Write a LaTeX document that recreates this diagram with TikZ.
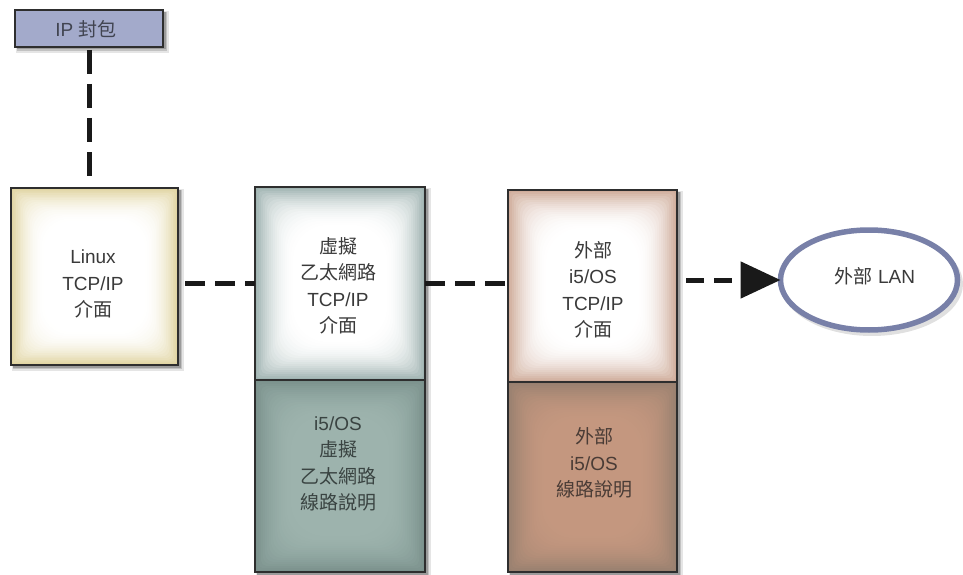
\documentclass[tikz,border=0pt]{standalone}
\usepackage{fontspec}
\setmainfont{Liberation Sans}
\newfontfamily\cjk{Noto Sans CJK TC}
\usetikzlibrary{arrows.meta,shapes.geometric}
\definecolor{ipfill}{HTML}{A3AACB}
\definecolor{lnxedge}{HTML}{E0D4A0}
\definecolor{vtedge}{HTML}{9FB3B1}
\definecolor{vbedge}{HTML}{7A918C}
\definecolor{vbcent}{HTML}{9DB3AD}
\definecolor{etedge}{HTML}{CFAC9A}
\definecolor{ebedge}{HTML}{98806F}
\definecolor{ebcent}{HTML}{C4977F}
\definecolor{lanring}{HTML}{7880A8}
\definecolor{bord}{HTML}{2E2E2E}
\definecolor{txtc}{HTML}{3A3A3A}
\definecolor{txtd}{HTML}{3A4442}
\definecolor{txte}{HTML}{4A3C36}
\newcommand{\zhtw}[1]{{\cjk #1}}
% glow: x1 y1 x2 y2 edge center depth
\newcommand{\glowrect}[7]{%
  \fill[color=#5] (#1,#2) rectangle (#3,#4);
  \foreach \i in {1,...,20}{%
    \pgfmathtruncatemacro\pct{100*(1-\i/20)*(1-\i/20)}%
    \pgfmathsetmacro\ins{#7*\i/20}%
    \pgfmathsetmacro\rad{0.9*\ins}%
    \fill[color=#5!\pct!#6,rounded corners=\rad pt] (#1+\ins,#2+\ins) rectangle (#3-\ins,#4-\ins);
  }}
\newcommand{\shadowrect}[4]{%
  \fill[black,opacity=0.10] (#1+1,#2+1) rectangle (#3+6,#4+6);
  \fill[black,opacity=0.15] (#1+2,#2+2) rectangle (#3+4,#4+4);
  \fill[black,opacity=0.20] (#1+2,#2+2) rectangle (#3+2.5,#4+2.5);}
\tikzset{
  boxframe/.style={draw=bord,line width=1.5pt,inner sep=0pt,outer sep=0pt,rectangle},
  txt/.style={align=center,font=\fontsize{19}{26.5}\selectfont,inner sep=0pt},
  dashline/.style={draw=black!90,line width=5pt,dash pattern=on 20pt off 10pt},
}
\begin{document}
\begin{tikzpicture}[x=1pt,y=-1pt]
\useasboundingbox[fill=white] (0,0) rectangle (963,575);
% shadows
\shadowrect{15}{10}{163}{47}
\shadowrect{11}{188}{178}{365}
\shadowrect{255}{187}{425}{572}
\shadowrect{508}{190}{677}{572}
% fills
\fill[ipfill] (15,10) rectangle (163,47);
\glowrect{11}{188}{178}{365}{lnxedge}{white}{34}
\glowrect{255}{187}{425}{380}{vtedge}{white}{40}
\glowrect{255}{380}{425}{572}{vbedge}{vbcent}{40}
\glowrect{508}{190}{677}{382}{etedge}{white}{40}
\glowrect{508}{382}{677}{572}{ebedge}{ebcent}{40}
% frames
\node[boxframe,minimum width=148pt,minimum height=37pt] (ip) at (89,28.5) {};
\node[boxframe,minimum width=167pt,minimum height=177pt] (linux) at (94.5,276.5) {};
\node[boxframe,minimum width=170pt,minimum height=193pt] (vtop) at (340,283.5) {};
\node[boxframe,minimum width=170pt,minimum height=192pt] (vbot) at (340,476) {};
\node[boxframe,minimum width=169pt,minimum height=192pt] (etop) at (592.5,286) {};
\node[boxframe,minimum width=169pt,minimum height=190pt] (ebot) at (592.5,477) {};
% ellipse
\fill[black,opacity=0.12] (872,284) ellipse [x radius=91,y radius=52];
\node[ellipse,draw=lanring,fill=white,line width=5.5pt,minimum width=177pt,minimum height=100pt,inner sep=0pt,outer sep=0pt] (lan) at (869,280) {};
% texts
\node[txt,text=black!60!ipfill] (ipt) at (86,29) {IP \zhtw{封包}};
\node[txt,text=txtc] (linuxt) at (93,284) {Linux\\TCP/IP\\\zhtw{介面}};
\node[txt,text=txtc] (vtopt) at (338,286) {\zhtw{虛擬}\\\zhtw{乙太網路}\\TCP/IP\\\zhtw{介面}};
\node[txt,text=txtd] (vbott) at (338,464) {i5/OS\\\zhtw{虛擬}\\\zhtw{乙太網路}\\\zhtw{線路說明}};
\node[txt,text=txtc] (etopt) at (593,290) {\zhtw{外部}\\i5/OS\\TCP/IP\\\zhtw{介面}};
\node[txt,text=txte] (ebott) at (594,463) {\zhtw{外部}\\i5/OS\\\zhtw{線路說明}};
\node[txt,text=txtc] (lant) at (875,276) {\zhtw{外部} LAN};
% connectors
\draw[dashline,dash pattern=on 24pt off 10pt,shorten <=3pt,shorten >=7pt] (ip.south) -- (ip.south |- linux.north);
\draw[dashline,shorten <=7pt] (linux.east |- vtop.west) -- (vtop.west);
\draw[dashline] (vtop.east) -- (etop.west |- vtop.east);
\draw[dashline,dash pattern=on 18pt off 10pt,-{Triangle[length=40pt,width=36pt]},shorten <=9pt] (etop.east |- lan.west) -- (lan.west);
\end{tikzpicture}
\end{document}
